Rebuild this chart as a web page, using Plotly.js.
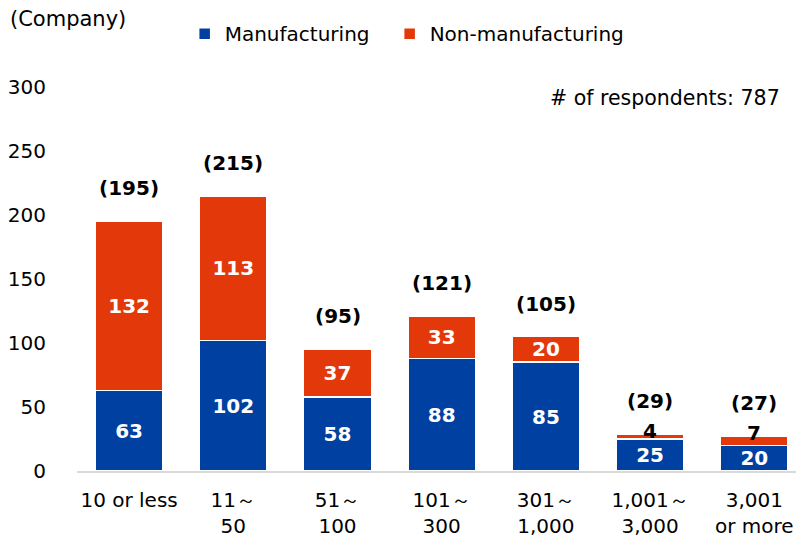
<!DOCTYPE html>
<html><head><meta charset="utf-8">
<script src="https://cdn.plot.ly/plotly-3.0.1.min.js"></script>
<style>html,body{margin:0;padding:0;background:#fff}#c{width:796px;height:544px}</style>
</head><body><div id="c"></div>
<script>
const categories = ["10 or less", "11～<br>50", "51～<br>100", "101～<br>300", "301～<br>1,000", "1,001～<br>3,000", "3,001<br>or more"];
const manufacturing = [63, 102, 58, 88, 85, 25, 20];
const nonManufacturing = [132, 113, 37, 33, 20, 4, 7];
const totals = [195, 215, 95, 121, 105, 29, 27];
const nonManLabelInside = [true, true, true, true, true, false, false];

const FONT = "DejaVu Sans, Verdana, sans-serif";
const BLUE = "#0040A0";
const RED = "#E3390A";

const traces = [
  {type: "bar", name: "Manufacturing", x: categories, y: manufacturing, legend: "legend",
   text: manufacturing.map(String), textposition: "inside", insidetextanchor: "middle", textangle: 0,
   textfont: {family: FONT, size: 20, color: "#fff", weight: "bold"},
   marker: {color: BLUE, line: {color: "#fff", width: 1.5}}, constraintext: "none", hoverinfo: "skip"},
  {type: "bar", name: "Non-manufacturing", x: categories, y: nonManufacturing, legend: "legend2",
   text: nonManufacturing.map((v, i) => nonManLabelInside[i] ? String(v) : ""), textposition: "inside",
   insidetextanchor: "middle", textangle: 0,
   textfont: {family: FONT, size: 20, color: "#fff", weight: "bold"},
   marker: {color: RED, line: {color: "#fff", width: 1.5}}, constraintext: "none", hoverinfo: "skip"}
];

const annotations = categories.map((c, i) => ({
  x: c, y: totals[i], xref: "x", yref: "y", text: "(" + totals[i] + ")",
  showarrow: false, yshift: 33, yanchor: "middle",
  font: {family: FONT, size: 20, color: "#000", weight: "bold"}
}));
categories.forEach((c, i) => {
  if (!nonManLabelInside[i]) {
    annotations.push({x: c, y: manufacturing[i] + nonManufacturing[i], xref: "x", yref: "y",
      text: String(nonManufacturing[i]), showarrow: false, yanchor: "middle", yshift: 3,
      font: {family: FONT, size: 20, color: "#000", weight: "bold"}});
  }
});
annotations.push({xref: "paper", yref: "paper", x: 0, y: 1, xanchor: "left", yanchor: "middle",
  text: "(Company)", showarrow: false, xshift: -69, yshift: 68, font: {family: FONT, size: 21, color: "#000"}});
annotations.push({xref: "paper", yref: "paper", x: 1, y: 1, xanchor: "right", yanchor: "middle",
  text: "# of respondents: 787", showarrow: false, xshift: -14, yshift: -11, font: {family: FONT, size: 20.5, color: "#000"}});

const legendBase = {orientation: "h", xref: "container", yref: "container", y: 0.974, xanchor: "left", yanchor: "top",
  font: {family: FONT, size: 20, color: "#000"}, bgcolor: "rgba(0,0,0,0)"};

const layout = {
  width: 796, height: 544,
  margin: {l: 77, r: 0, t: 87, b: 73},
  barmode: "stack", bargap: 0.35,
  font: {family: FONT, size: 20, color: "#000"},
  paper_bgcolor: "#fff", plot_bgcolor: "#fff",
  showlegend: true,
  legend: Object.assign({}, legendBase, {x: 0.232}),
  legend2: Object.assign({}, legendBase, {x: 0.4895}),
  xaxis: {range: [-0.5, 6.4], showline: true, linecolor: "#D9D9D9", linewidth: 2, showgrid: false, zeroline: false,
    ticks: "", ticklabelstandoff: 10, tickfont: {family: FONT, size: 20, color: "#000"}, fixedrange: true},
  yaxis: {range: [0, 300], dtick: 50, showgrid: false, zeroline: false, showline: false, ticks: "",
    ticklabelstandoff: 30, tickfont: {family: FONT, size: 20, color: "#000"}, fixedrange: true},
  annotations: annotations
};

Plotly.newPlot("c", traces, layout, {displayModeBar: false, staticPlot: true});
</script>
</body></html>
